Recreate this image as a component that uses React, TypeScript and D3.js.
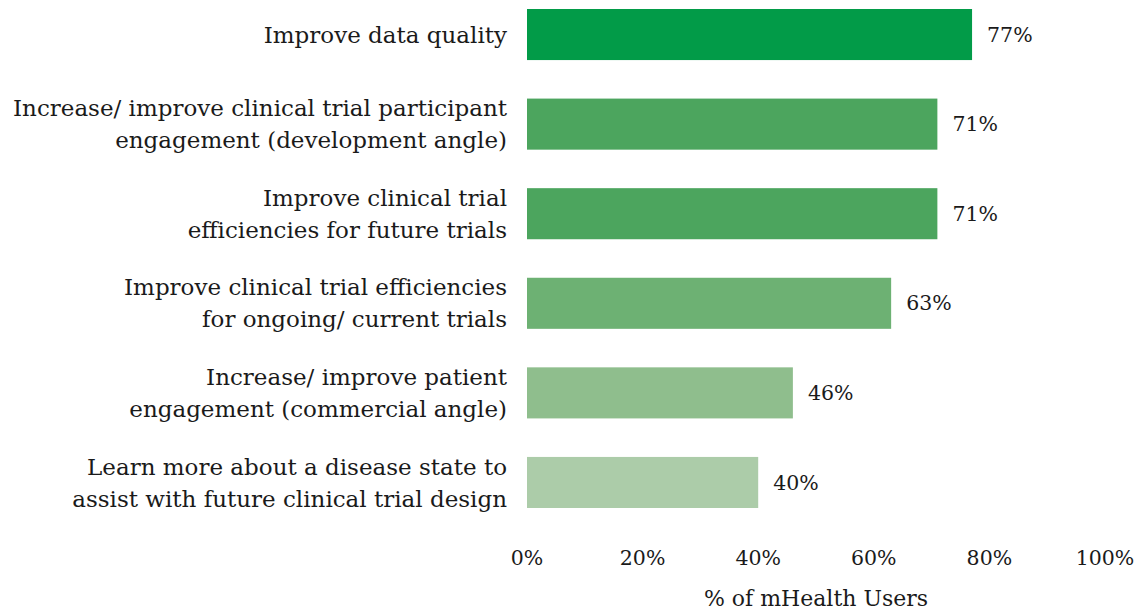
import React, { useEffect, useRef } from 'react';
import * as d3 from 'd3';

const categories = [
  ['Improve data quality'],
  ['Increase/ improve clinical trial participant', 'engagement (development angle)'],
  ['Improve clinical trial', 'efficiencies for future trials'],
  ['Improve clinical trial efficiencies', 'for ongoing/ current trials'],
  ['Increase/ improve patient', 'engagement (commercial angle)'],
  ['Learn more about a disease state to', 'assist with future clinical trial design'],
];
const values = [77, 71, 71, 63, 46, 40];
const barColors = ['#029b48', '#4ca55e', '#4ca55e', '#6db173', '#8fbe8d', '#accca9'];
const ticks = [0, 20, 40, 60, 80, 100];
const axisTitle = '% of mHealth Users';

const W = 1138;
const H = 612;
const FONT = '"DejaVu Serif", serif';

export default function App() {
  const ref = useRef<SVGSVGElement>(null);

  useEffect(() => {
    const svg = d3.select(ref.current);
    svg.selectAll('*').remove();

    const x = d3.scaleLinear().domain([0, 100]).range([527, 1105]);
    const y = d3.scaleBand<number>()
      .domain(d3.range(values.length))
      .range([9, 508])
      .paddingInner(0.43)
      .paddingOuter(0);

    const g = svg.append('g');

    g.selectAll('rect.bar')
      .data(values)
      .enter()
      .append('rect')
      .attr('class', 'bar')
      .attr('x', x(0))
      .attr('y', (d, i) => y(i)!)
      .attr('width', (d) => x(d) - x(0))
      .attr('height', y.bandwidth())
      .attr('fill', (d, i) => barColors[i]);

    // value labels
    g.selectAll('text.val')
      .data(values)
      .enter()
      .append('text')
      .attr('class', 'val')
      .attr('x', (d) => x(d) + 15)
      .attr('y', (d, i) => y(i)! + y.bandwidth() / 2)
      .attr('dy', '0.35em')
      .attr('font-size', 20.5)
      .attr('font-family', FONT)
      .attr('fill', '#1a1a1a')
      .text((d) => d + '%');

    // category labels
    const lineH = 32;
    g.selectAll('text.cat')
      .data(categories)
      .enter()
      .append('text')
      .attr('class', 'cat')
      .attr('text-anchor', 'end')
      .attr('font-size', 23)
      .attr('font-family', FONT)
      .attr('fill', '#1a1a1a')
      .each(function (lines, i) {
        const cy = y(i)! + y.bandwidth() / 2;
        const top = cy - ((lines.length - 1) * lineH) / 2;
        d3.select(this)
          .selectAll('tspan')
          .data(lines)
          .enter()
          .append('tspan')
          .attr('x', 507)
          .attr('y', (l, j) => top + j * lineH)
          .attr('dy', '0.35em')
          .text((l) => l);
      });

    // x axis tick labels
    g.selectAll('text.tick')
      .data(ticks)
      .enter()
      .append('text')
      .attr('class', 'tick')
      .attr('x', (d) => x(d))
      .attr('y', 558)
      .attr('dy', '0.35em')
      .attr('text-anchor', 'middle')
      .attr('font-size', 20.5)
      .attr('font-family', FONT)
      .attr('fill', '#1a1a1a')
      .text((d) => d + '%');

    g.append('text')
      .attr('x', (x(0) + x(100)) / 2)
      .attr('y', 598)
      .attr('dy', '0.35em')
      .attr('text-anchor', 'middle')
      .attr('font-size', 22)
      .attr('font-family', FONT)
      .attr('fill', '#1a1a1a')
      .text(axisTitle);
  }, []);

  return (
    <svg
      ref={ref}
      width={W}
      height={H}
      style={{ position: 'absolute', left: 0, top: 0, background: '#fff' }}
    />
  );
}
